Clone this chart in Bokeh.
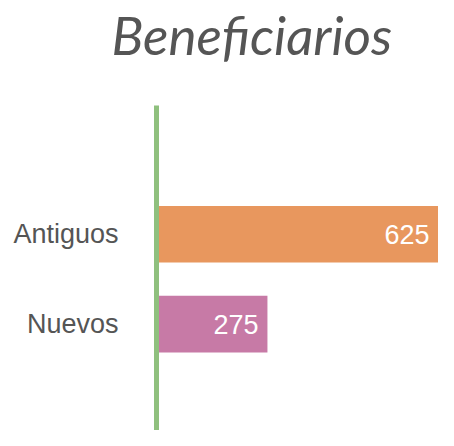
from bokeh.plotting import figure
from bokeh.models import Range1d, FixedTicker, ColumnDataSource, Title
from bokeh.embed import file_html
from bokeh.resources import INLINE
from bokeh.core.properties import value

title_text = "Beneficiarios"
categories = ["Nuevos", "Antiguos"]
values = [275, 625]
colors = ["#C77AA6", "#E8975E"]
labels = ["275", "625"]

ypos = list(range(len(categories)))
src = ColumnDataSource(dict(y=ypos, v=values, c=colors, t=labels, left=[0] * len(values)))

p = figure(width=438, height=430, output_backend="svg", toolbar_location=None,
           x_range=Range1d(48, 625), y_range=Range1d(-1.182, 2.431),
           min_border_left=156, min_border_right=0, min_border_top=103, min_border_bottom=0,
           x_axis_location=None)
p.title = None
spacer = Title(text=" ", text_font_size="1px", standoff=37)
p.add_layout(spacer, "above")
t = Title(text=title_text, align="left", offset=-45, standoff=0, text_font="Lato",
          text_font_style="italic", text_font_size="53px", text_color="#555555")
p.add_layout(t, "above")

p.hbar(y="y", left="left", right="v", height=0.63, fill_color="c", line_color=None, source=src)
p.text(x="v", y="y", text="t", x_offset=-9, text_align="right", text_baseline="middle",
       text_color="white", text_font=value("Liberation Sans"), text_font_size="27px", source=src)

p.yaxis.ticker = FixedTicker(ticks=ypos)
p.yaxis.major_label_overrides = {i: c for i, c in zip(ypos, categories)}
p.yaxis.major_label_text_font = "Liberation Sans"
p.yaxis.major_label_text_font_size = "27px"
p.yaxis.major_label_text_color = "#555555"
p.yaxis.major_label_standoff = 32
p.yaxis.major_tick_line_color = None
p.yaxis.minor_tick_line_color = None
p.yaxis.axis_line_color = "#8FC07E"
p.yaxis.axis_line_width = 5
p.xgrid.visible = False
p.ygrid.visible = False
p.outline_line_color = None
p.background_fill_color = "white"
p.border_fill_color = "white"

open("out.html", "w").write(file_html(p, INLINE))
